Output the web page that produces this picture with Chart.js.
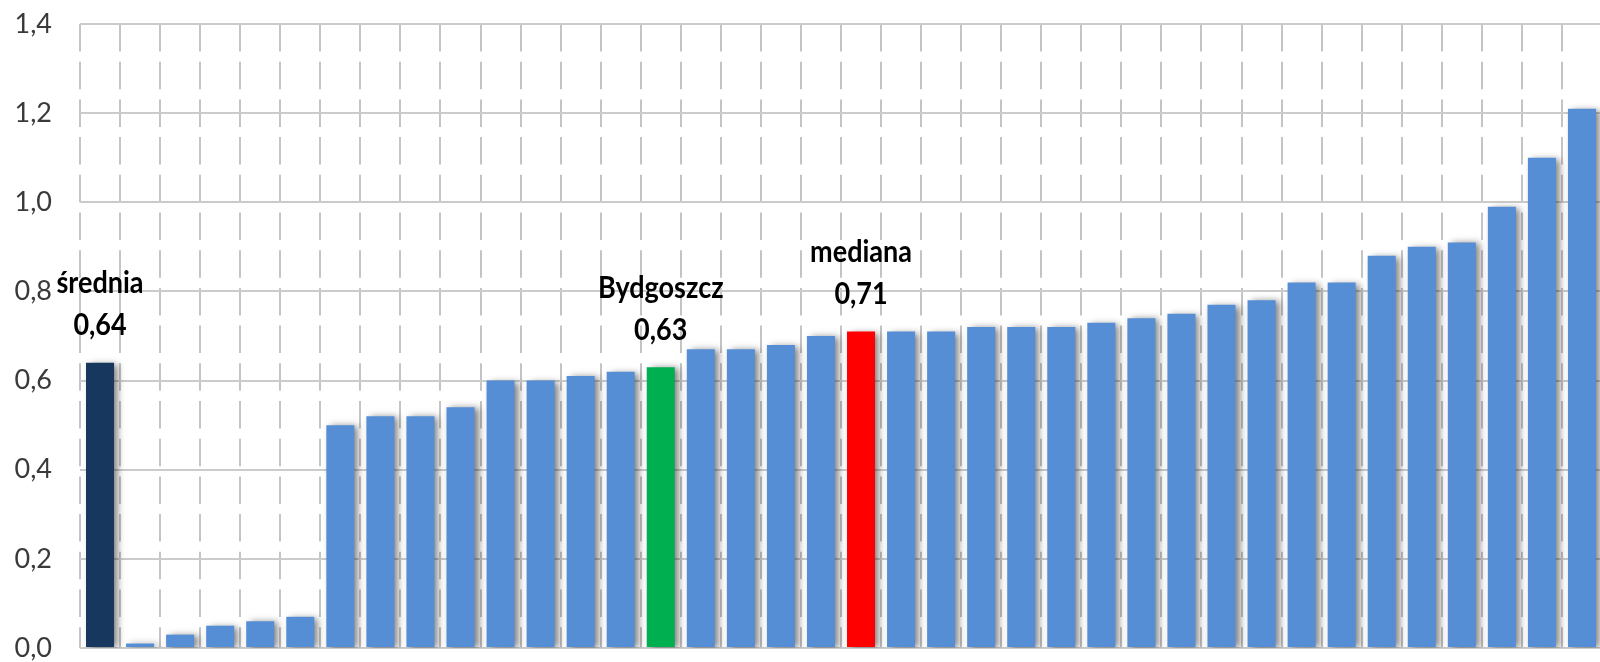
<!DOCTYPE html>
<html>
<head>
<meta charset="utf-8">
<script src="https://cdn.jsdelivr.net/npm/chart.js@4/dist/chart.umd.min.js"></script>
<style>
  html, body { margin: 0; padding: 0; background: #fff; overflow: hidden; width: 1600px; height: 662px; }
  #wrap { width: 1604px; height: 662px; position: relative; }
</style>
</head>
<body>
<div id="wrap"><canvas id="c"></canvas></div>
<script>
// ---- data ----
const categories = ['średnia', '', '', '', '', '', '', '', '', '', '', '', '', '', 'Bydgoszcz',
  '', '', '', '', 'mediana', '', '', '', '', '', '', '', '', '', '', '', '', '', '', '', '', '', ''];
const values = [0.64, 0.01, 0.03, 0.05, 0.06, 0.07, 0.50, 0.52, 0.52, 0.54, 0.60, 0.60, 0.61, 0.62, 0.63,
  0.67, 0.67, 0.68, 0.70, 0.71, 0.71, 0.71, 0.72, 0.72, 0.72, 0.73, 0.74, 0.75, 0.77, 0.78,
  0.82, 0.82, 0.88, 0.90, 0.91, 0.99, 1.10, 1.21];
const yMin = 0;
const yMax = 1.4;
const yStep = 0.2;

// ---- styles ----
const baseColor = '#558ED5';
const highlightColors = { 'średnia': '#17375E', 'Bydgoszcz': '#00B050', 'mediana': '#FF0000' };
const fmt = v => v.toFixed(2).replace('.', ',');
const FONT = 'Lato, "Open Sans", "Liberation Sans", sans-serif';

const shadowPlugin = {
  id: 'barShadow',
  beforeDatasetsDraw(chart) {
    const ctx = chart.ctx;
    ctx.save();
    ctx.shadowColor = 'rgba(0,0,0,0.5)';
    ctx.shadowBlur = 7;
    ctx.shadowOffsetX = 4;
    ctx.shadowOffsetY = 1;
  },
  afterDatasetsDraw(chart) {
    chart.ctx.restore();
  }
};

const notePlugin = {
  id: 'notes',
  afterDraw(chart) {
    const ctx = chart.ctx;
    const meta = chart.getDatasetMeta(0);
    const sx = 0.9;
    ctx.save();
    ctx.fillStyle = '#000';
    ctx.font = 'bold 30px ' + FONT;
    ctx.textAlign = 'center';
    ctx.textBaseline = 'middle';
    chart.data.labels.forEach((name, i) => {
      if (!name) return;
      const bar = meta.data[i];
      const v = chart.data.datasets[0].data[i];
      ctx.save();
      ctx.translate(bar.x, 0);
      ctx.scale(sx, 1);
      ctx.fillText(name, 0, bar.y - 79);
      ctx.fillText(fmt(v), 0, bar.y - 37);
      ctx.restore();
    });
    ctx.restore();
  }
};

new Chart(document.getElementById('c'), {
  type: 'bar',
  data: {
    labels: categories,
    datasets: [{
      data: values,
      backgroundColor: categories.map(c => highlightColors[c] || baseColor),
      borderWidth: 0,
      barPercentage: 0.7,
      categoryPercentage: 1.0
    }]
  },
  options: {
    responsive: true,
    maintainAspectRatio: false,
    animation: false,
    layout: { padding: { left: 0, right: 2, top: 24, bottom: 14 } },
    plugins: { legend: { display: false }, tooltip: { enabled: false } },
    scales: {
      x: {
        grid: { display: true, offset: true, color: '#c4c4c4', lineWidth: 2, drawTicks: false },
        border: { display: false, dash: [27.5, 10.2], dashOffset: 0 },
        ticks: { display: false },
        afterFit(s) { s.height = 0; }
      },
      y: {
        min: yMin,
        max: yMax,
        ticks: {
          stepSize: yStep,
          color: '#3a3a3a',
          font: { family: FONT, size: 27 },
          padding: 28,
          callback: v => v.toFixed(1).replace('.', ',')
        },
        grid: { color: '#cbcbcb', lineWidth: 2, drawTicks: false },
        border: { display: false },
        afterFit(s) { s.width = 80; s.paddingTop = 0; s.paddingBottom = 0; }
      }
    }
  },
  plugins: [shadowPlugin, notePlugin]
});
</script>
</body>
</html>
